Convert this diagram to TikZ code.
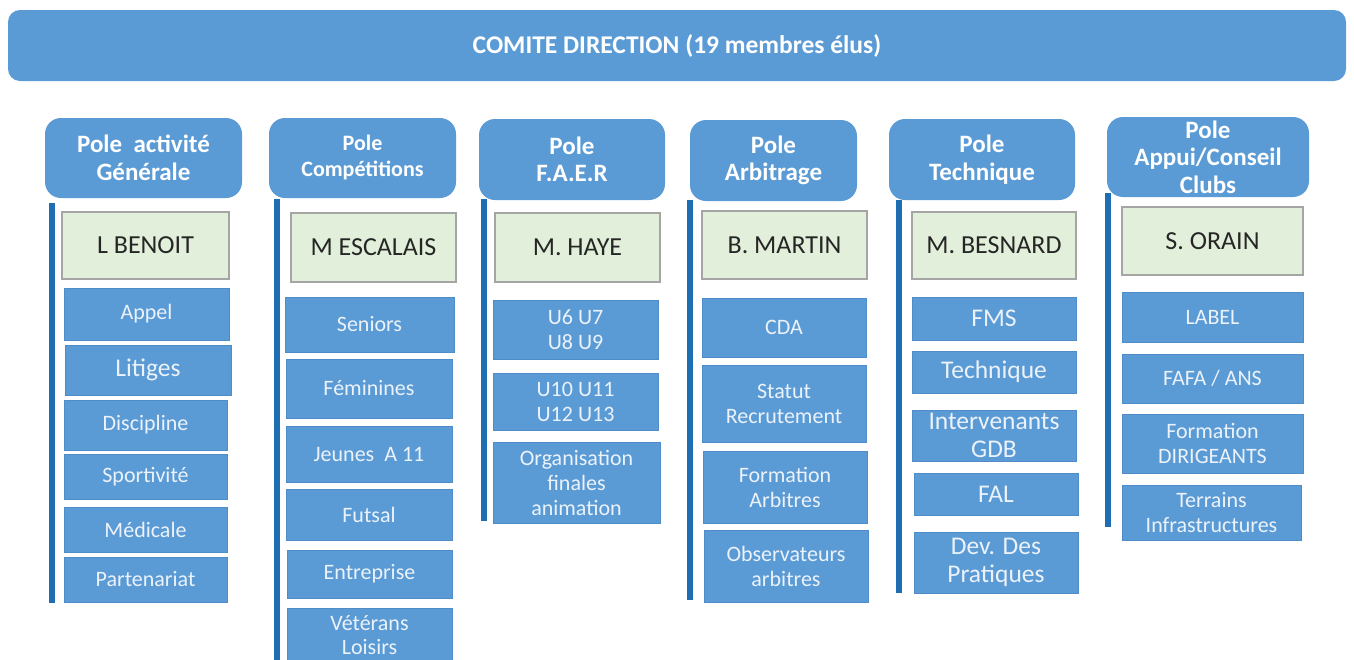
\documentclass[tikz,border=0pt]{standalone}
\usepackage{fontspec}
\setmainfont{Carlito}
\definecolor{boxblue}{RGB}{91,155,213}
\definecolor{boxedge}{RGB}{80,140,200}
\definecolor{bardark}{RGB}{30,110,180}
\definecolor{chefgreen}{RGB}{226,239,218}
\definecolor{chefgray}{RGB}{165,165,165}
\definecolor{textwhite}{RGB}{235,242,250}
\begin{document}
\begin{tikzpicture}[x=1pt,y=-1pt,
	banner/.style={fill=boxblue,rounded corners=12pt,inner sep=0pt,text=white,font=\bfseries\fontsize{25.5}{28}\selectfont},
	pole/.style={fill=boxblue,rounded corners=16pt,inner sep=0pt,text=white,align=center,font=\bfseries\fontsize{25}{27.5}\selectfont},
	chef/.style={fill=chefgreen,draw=chefgray,line width=1.2pt,inner sep=0pt,text=black!85,font=\fontsize{26}{30}\selectfont},
	item/.style={fill=boxblue,draw=boxedge,line width=.6pt,inner sep=0pt,text=textwhite,align=center,font=\fontsize{22}{25}\selectfont},
	big/.style={font=\fontsize{25.5}{28.5}\selectfont},
	bar/.style={draw=bardark,line width=6pt}]
\clip (0,0) rectangle (1354,659);
\fill[white] (0,0) rectangle (1354,659);
\node[banner,minimum width=1338pt,minimum height=71pt] (cd) at (677,45.5) {COMITE DIRECTION (19 membres élus)};
% pole activite generale
\coordinate (b1t) at (52,203);
\coordinate (b1b) at (52,603);
\draw[bar] (b1t) -- (b1b);
\node[pole,minimum width=197pt,minimum height=80pt] (h1) at (143.5,158) {Pole~~activité\\Générale};
\node[chef,minimum width=167pt,minimum height=67pt] (n1) at (145.5,245.5) {L BENOIT};
\node[item,minimum width=165pt,minimum height=52pt] (appel) at (146.5,314) {Appel};
\node[item,big,minimum width=166pt,minimum height=50pt] (litiges) at (148,370) {Litiges};
\node[item,minimum width=163pt,minimum height=50pt] (discipline) at (145.5,425) {Discipline};
\node[item,minimum width=163pt,minimum height=45pt] (sportivite) at (145.5,476.5) {Sportivité};
\node[item,minimum width=163pt,minimum height=45pt] (medicale) at (145.5,529.5) {Médicale};
\node[item,minimum width=163pt,minimum height=45pt] (partenariat) at (145.5,579.5) {Partenariat};
% pole competitions
\coordinate (b2t) at (277,199);
\coordinate (b2b) at (277,670);
\draw[bar] (b2t) -- (b2b);
\node[pole,minimum width=187pt,minimum height=80pt,font=\bfseries\fontsize{22}{26}\selectfont] (h2) at (362.5,158) {Pole\\Compétitions};
\node[chef,minimum width=165pt,minimum height=69pt] (n2) at (373.5,247.5) {M ESCALAIS};
\node[item,minimum width=169pt,minimum height=55pt] (seniors) at (369.5,324.5) {Seniors};
\node[item,minimum width=166pt,minimum height=59pt] (feminines) at (369,388.5) {Féminines};
\node[item,minimum width=166pt,minimum height=56pt] (jeunes) at (369,454) {Jeunes~ A 11};
\node[item,minimum width=166pt,minimum height=51pt] (futsal) at (369,514.5) {Futsal};
\node[item,minimum width=165pt,minimum height=48pt] (entreprise) at (369.5,574) {Entreprise};
\node[item,minimum width=165pt,minimum height=54pt,font=\fontsize{22}{23.5}\selectfont] (veterans) at (369.5,635) {Vétérans\\Loisirs};
% pole faer
\coordinate (b3t) at (484,199);
\coordinate (b3b) at (484,521);
\draw[bar] (b3t) -- (b3b);
\node[pole,minimum width=186pt,minimum height=81pt] (h3) at (572,159.5) {Pole\\F.A.E.R};
\node[chef,minimum width=165pt,minimum height=69pt] (n3) at (577.5,247.5) {M. HAYE};
\node[item,minimum width=165pt,minimum height=59pt] (u6) at (575.5,329.5) {U6 U7\\U8 U9};
\node[item,minimum width=165pt,minimum height=57pt] (u10) at (575.5,401.5) {U10 U11\\U12 U13};
\node[item,minimum width=167pt,minimum height=81pt] (finales) at (576.5,482.5) {Organisation\\finales\\animation};
% pole arbitrage
\coordinate (b4t) at (690,200);
\coordinate (b4b) at (690,600);
\draw[bar] (b4t) -- (b4b);
\node[pole,minimum width=167pt,minimum height=81pt] (h4) at (773.5,160.5) {Pole\\Arbitrage};
\node[chef,minimum width=165pt,minimum height=68pt] (n4) at (784.5,245) {B. MARTIN};
\node[item,minimum width=164pt,minimum height=59pt] (cda) at (784,327.5) {CDA};
\node[item,minimum width=164pt,minimum height=77pt] (statut) at (784,403.5) {Statut\\Recrutement};
\node[item,minimum width=164pt,minimum height=72pt] (formarb) at (785,487) {Formation\\Arbitres};
\node[item,minimum width=164pt,minimum height=72pt] (observ) at (786,566) {Observateurs\\arbitres};
% pole technique
\coordinate (b5t) at (899,200);
\coordinate (b5b) at (899,593);
\draw[bar] (b5t) -- (b5b);
\node[pole,minimum width=186pt,minimum height=81pt] (h5) at (982,159.5) {Pole\\Technique};
\node[chef,minimum width=164pt,minimum height=67pt] (n5) at (994,245.5) {M. BESNARD};
\node[item,big,minimum width=164pt,minimum height=43pt] (fms) at (994,318.5) {FMS};
\node[item,big,minimum width=164pt,minimum height=42pt] (technique) at (994,372) {Technique};
\node[item,big,minimum width=164pt,minimum height=51pt] (interv) at (994,435.5) {Intervenants\\GDB};
\node[item,big,minimum width=164pt,minimum height=42pt] (fal) at (996,494) {FAL};
\node[item,big,minimum width=164pt,minimum height=61pt] (dev) at (996,562.5) {Dev. Des\\Pratiques};
% pole appui conseil
\coordinate (b6t) at (1108,193);
\coordinate (b6b) at (1108,527);
\draw[bar] (b6t) -- (b6b);
\node[pole,minimum width=202pt,minimum height=80pt] (h6) at (1208,157) {Pole\\Appui/Conseil\\Clubs};
\node[chef,minimum width=181pt,minimum height=68pt] (n6) at (1212.5,241) {S. ORAIN};
\node[item,minimum width=181pt,minimum height=50pt] (label) at (1212.5,317) {LABEL};
\node[item,minimum width=181pt,minimum height=49pt] (fafa) at (1212.5,378.5) {FAFA / ANS};
\node[item,minimum width=181pt,minimum height=59pt] (formdir) at (1212.5,443.5) {Formation\\DIRIGEANTS};
\node[item,minimum width=179pt,minimum height=55pt] (terrains) at (1211.5,512.5) {Terrains\\Infrastructures};
\end{tikzpicture}
\end{document}
